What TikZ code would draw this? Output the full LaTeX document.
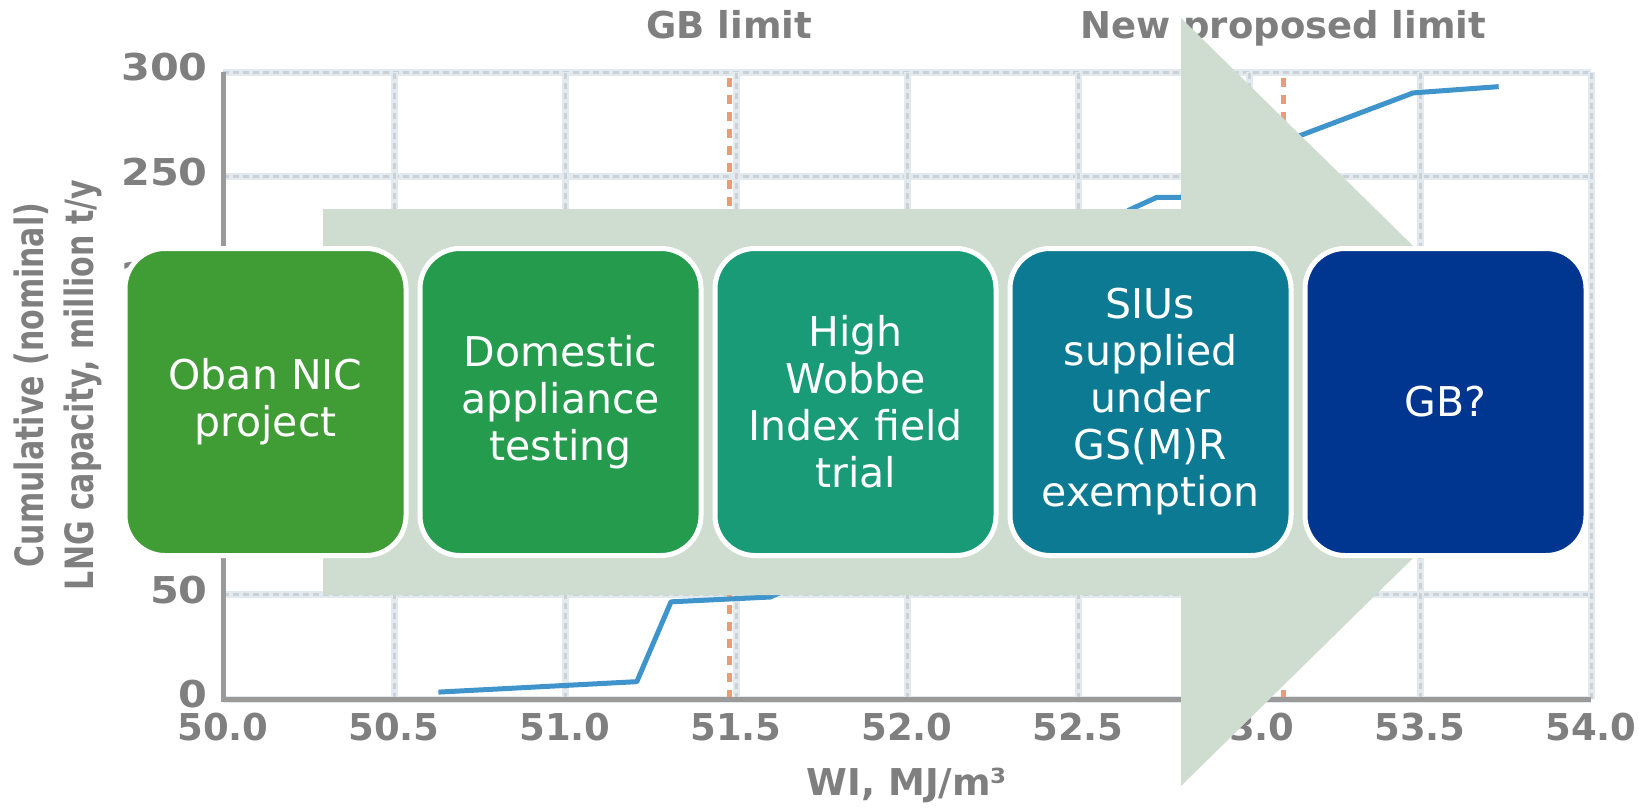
\documentclass[tikz,border=0pt]{standalone}
\usepackage{fontspec}
\setmainfont{DejaVu Sans}
\usepackage{xcolor}
\usepackage{tikz}
\usetikzlibrary{positioning}

\definecolor{obangreen}{HTML}{409C35}
\definecolor{domgreen}{HTML}{259B4E}
\definecolor{wobbeteal}{HTML}{1A9B78}
\definecolor{siublue}{HTML}{0D7A94}
\definecolor{gbnavy}{HTML}{00368F}
\definecolor{arrowfill}{HTML}{CEDDD0}
\definecolor{chartgray}{HTML}{7F7F7F}
\definecolor{axisgray}{HTML}{9A9A9A}
\definecolor{gridlight}{HTML}{E2EAEF}
\definecolor{griddark}{HTML}{CBD1D5}
\definecolor{limitorange}{HTML}{EC9B77}
\definecolor{curveblue}{HTML}{3F94CC}

\tikzset{
  stage/.style={draw=white, line width=5pt, rounded corners=40pt,
    minimum width=281pt, minimum height=307pt, inner sep=0pt,
    align=center, text=white, font=\fontsize{41}{47}\selectfont},
  ticklbl/.style={text=chartgray, inner sep=0pt,
    font=\fontsize{37}{40}\selectfont\bfseries},
  ytitle/.style={ticklbl, font=\fontsize{30}{39}\selectfont\bfseries,
    align=center, rotate=90, yscale=1.3, transform shape},
  gridline/.style={draw=griddark, line width=3pt, dash pattern=on 6pt off 4pt,
    preaction={draw=gridlight, line width=7pt, solid}},
  limitline/.style={draw=limitorange, line width=5pt, dash pattern=on 9pt off 8pt},
  lngcurve/.style={draw=curveblue, line width=5pt, line join=round},
  axisline/.style={draw=axisgray, line width=5pt},
}

\begin{document}
\begin{tikzpicture}[x=1pt, y=-1pt]
  \useasboundingbox (0,0) rectangle (1639,807);

  % chart: x = WI - 50, y = capacity
  \begin{scope}[shift={(223,699)}, x=342pt, y=2.09pt]
    \foreach \v in {0,50,...,300}
      \draw[gridline] (0,\v) -- (4,\v);
    \foreach \t in {0.5,1,...,4}
      \draw[gridline] (\t,0) -- (\t,300);
    \draw[limitline] (1.48,0) -- (1.48,300);
    \draw[limitline] (3.1,0) -- (3.1,300);
    \draw[lngcurve] (0.63,3.3) -- (1.21,8.3) -- (1.31,46.5) -- (1.6,48.8)
      -- (1.75,60) -- (2.6,228) -- (2.65,234) -- (2.73,240) -- (2.8,240)
      -- (3.14,269) -- (3.48,290) -- (3.73,293);
    \draw[axisline] (0,300) -- (0,0) -- (4,0);

    \foreach \lbl [count=\i from 0] in {50.0,50.5,51.0,51.5,52.0,52.5,53.0,53.5,54.0}
      \node[ticklbl, anchor=base] (x\i) at (\i/2,-20) {\lbl};
    \foreach \v in {0,50,200,250,300}
      \node[ticklbl, anchor=base east, xscale=1.12, transform shape] (y\v) at (-0.044,\v-4.3) {\v};
    \node[ticklbl, anchor=base] (gblimit) at (1.48,316) {GB limit};
    \node[ticklbl, anchor=base] (newlimit) at (3.1,316) {New proposed limit};
    \node[ticklbl, anchor=base] (wi) at (2,-46) {WI, MJ/m³};
  \end{scope}
  \node[ytitle] (ytitle) at (58,385) {Cumulative (nominal)\\LNG capacity, million t/y};

  % process arrow
  \fill[arrowfill] (323,209) -- (1181,209) -- (1181,18) -- (1572,402)
    -- (1181,786) -- (1181,595) -- (323,595) -- cycle;

  \node[stage, fill=obangreen] (oban) at (265.5,402) {Oban NIC\\project};
  \node[stage, fill=domgreen, right=9pt of oban] (domestic) {Domestic\\appliance\\testing};
  \node[stage, fill=wobbeteal, right=9pt of domestic] (wobbe) {High\\Wobbe\\Index field\\trial};
  \node[stage, fill=siublue, right=9pt of wobbe] (sius) {SIUs\\supplied\\under\\GS(M)R\\exemption};
  \node[stage, fill=gbnavy, right=9pt of sius] (gb) {GB?};
\end{tikzpicture}
\end{document}
